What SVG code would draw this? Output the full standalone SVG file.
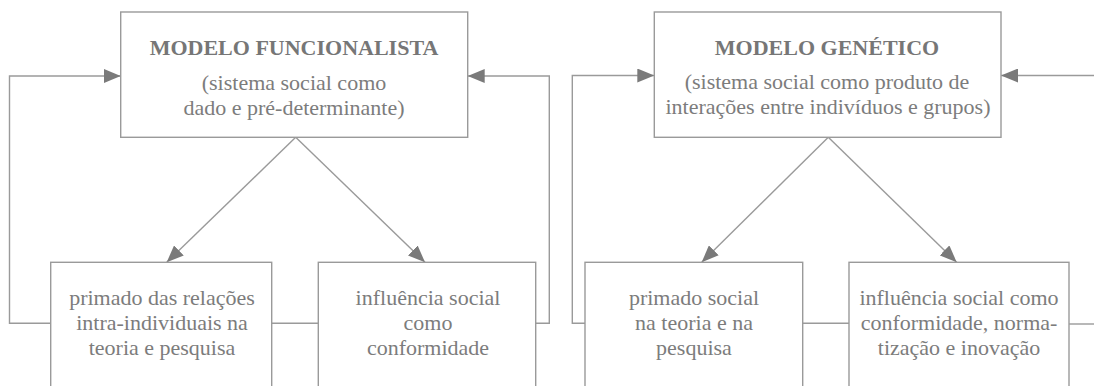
<svg xmlns="http://www.w3.org/2000/svg" width="1094" height="386" viewBox="0 0 1094 386">
<style>
.box{fill:#fff;stroke:#9a9a9a;stroke-width:1.4}
.ln{fill:none;stroke:#9a9a9a;stroke-width:1.4}
text{font-family:"Liberation Serif","Times New Roman",serif;font-size:22px;fill:#7c7c7c;text-anchor:middle}
.t{font-weight:bold;fill:#767676}
</style>
<defs>
<marker id="ah" markerUnits="userSpaceOnUse" markerWidth="18" markerHeight="14" refX="17" refY="7" orient="auto">
<path d="M0,0 L17,7 L0,14 Z" fill="#7a7a7a"/>
</marker>
</defs>
<rect width="1094" height="386" fill="#fff"/>
<g id="connectors">
<polyline class="ln" points="50.7,323.3 9.5,323.3 9.5,76 120.7,76" marker-end="url(#ah)"/>
<polyline class="ln" points="535.7,323.3 549.3,323.3 549.3,76 467.7,76" marker-end="url(#ah)"/>
<line class="ln" x1="271.7" y1="323.3" x2="318.3" y2="323.3"/>
<line class="ln" x1="295.7" y1="137.3" x2="166.7" y2="262.3" marker-end="url(#ah)"/>
<line class="ln" x1="295.7" y1="137.3" x2="425" y2="262.3" marker-end="url(#ah)"/>
<polyline class="ln" points="585,323.3 572.3,323.3 572.3,75.5 654.3,75.5" marker-end="url(#ah)"/>
<line class="ln" x1="1094" y1="75.5" x2="1001" y2="75.5" marker-end="url(#ah)"/>
<line class="ln" x1="802.7" y1="323.3" x2="849" y2="323.3"/>
<line class="ln" x1="1069" y1="324" x2="1094" y2="324"/>
<line class="ln" x1="828.3" y1="137.3" x2="701.7" y2="262.3" marker-end="url(#ah)"/>
<line class="ln" x1="828.3" y1="137.3" x2="956.7" y2="262.3" marker-end="url(#ah)"/>
</g>
<g id="funcionalista">
<rect class="box" x="120.7" y="12" width="347" height="125.3"/>
<text class="t" x="294" y="55">MODELO FUNCIONALISTA</text>
<text x="294" y="89.5">(sistema social como</text>
<text x="294" y="115">dado e pré-determinante)</text>
</g>
<g id="primado-intra">
<rect class="box" x="50.7" y="262.3" width="221" height="140"/>
<text x="162" y="305">primado das relações</text>
<text x="162" y="330">intra-individuais na</text>
<text x="162" y="355">teoria e pesquisa</text>
</g>
<g id="conformidade">
<rect class="box" x="318.3" y="262.3" width="217.4" height="140"/>
<text x="428" y="305">influência social</text>
<text x="428" y="330">como</text>
<text x="428" y="355">conformidade</text>
</g>
<g id="genetico">
<rect class="box" x="654.3" y="12" width="346.7" height="125.3"/>
<text class="t" x="827" y="54.5">MODELO GENÉTICO</text>
<text x="827" y="88.5">(sistema social como produto de</text>
<text x="828" y="114">interações entre indivíduos e grupos)</text>
</g>
<g id="primado-social">
<rect class="box" x="585" y="262.3" width="217.7" height="140"/>
<text x="694" y="305">primado social</text>
<text x="694" y="330">na teoria e na</text>
<text x="694" y="355">pesquisa</text>
</g>
<g id="inovacao">
<rect class="box" x="849" y="262.3" width="220" height="140"/>
<text x="959" y="305">influência social como</text>
<text x="959" y="330">conformidade, norma-</text>
<text x="959" y="355">tização e inovação</text>
</g>
</svg>
